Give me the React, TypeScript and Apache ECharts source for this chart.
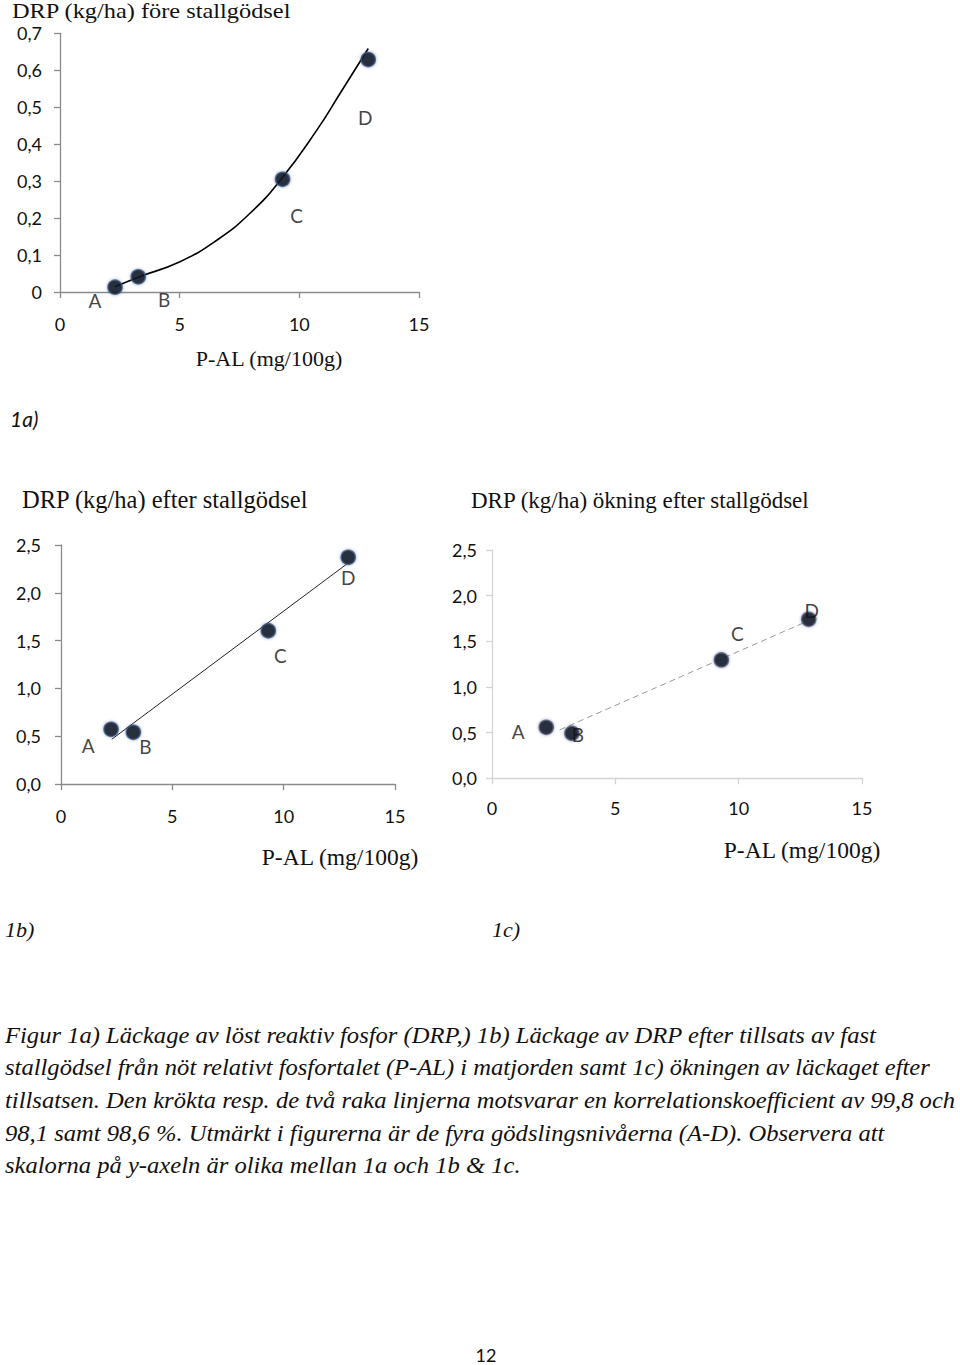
import React, { useEffect, useRef } from "react";
import * as echarts from "echarts";

// ---------- data ----------
const pointNames = ["A", "B", "C", "D"];
const palA_x = [2.3, 3.27, 9.3, 12.88];
const drpBefore = [0.013, 0.041, 0.305, 0.629];
const palB_x = [2.25, 3.25, 9.31, 12.9];
const drpAfter = [0.572, 0.541, 1.603, 2.371];
const palC_x = [2.2, 3.24, 9.3, 12.84];
const drpIncrease = [0.558, 0.493, 1.296, 1.741];

// trend line points
const curveA_x = [2.3, 3.27, 5.01, 6.55, 7.94, 9.26, 10.73, 11.7, 12.88];
const curveA_y = [0.014, 0.04, 0.082, 0.14, 0.213, 0.307, 0.438, 0.537, 0.659];
const lineB_x = [2.28, 12.83];
const lineB_y = [0.468, 2.3];
const lineC_x = [2.74, 12.74];
const lineC_y = [0.53, 1.715];

const titles = [
  "DRP (kg/ha) före stallgödsel",
  "DRP (kg/ha) efter stallgödsel",
  "DRP (kg/ha) ökning efter stallgödsel",
];
const xName = "P-AL (mg/100g)";
const panelTags = ["1a)", "1b)", "1c)"];
const captionLines = [
  "Figur 1a) Läckage av löst reaktiv fosfor (DRP,) 1b) Läckage av DRP efter tillsats av fast",
  "stallgödsel från nöt relativt fosfortalet (P-AL) i matjorden samt 1c) ökningen av läckaget efter",
  "tillsatsen. Den krökta resp. de två raka linjerna motsvarar en korrelationskoefficient av 99,8 och",
  "98,1 samt 98,6 %. Utmärkt i figurerna är de fyra gödslingsnivåerna (A-D). Observera att",
  "skalorna på y-axeln är olika mellan 1a och 1b & 1c.",
];
const pageNumber = "12";

// ---------- styles ----------
const SANS = "Lato, 'Open Sans', sans-serif";
const SERIF = "'Liberation Serif', 'Times New Roman', serif";
const labelOffsetsA = [[-20, 13], [26, 23], [14, 36], [-3, 58]];
const labelOffsetsB = [[-23, 16], [12, 14], [12, 25], [0, 20]];
const labelOffsetsC = [[-28, 4], [6, 1], [16, -26], [3, -9]];

function pts(xs: number[], ys: number[]) {
  return xs.map((x, i) => [x, ys[i]]);
}

function scatterData(xs: number[], ys: number[], offsets: number[][]) {
  return xs.map((x, i) => ({
    value: [x, ys[i]],
    name: pointNames[i],
    label: { offset: offsets[i] },
  }));
}

const markerStyle = {
  color: "#050505",
  borderColor: "#3d5680",
  borderWidth: 1.6,
  shadowBlur: 3,
  shadowColor: "rgba(40,70,120,0.6)",
};

const pointLabel = {
  show: true,
  position: "inside",
  formatter: (p: any) => p.name,
  fontFamily: SANS,
  fontSize: 19,
  color: "#111",
};

function yFmt(zeroPlain: boolean) {
  return (v: number) => (zeroPlain && v === 0 ? "0" : v.toFixed(1).replace(".", ","));
}

function xAxis(gridIndex: number, lineColor: string, margin: number) {
  return {
    type: "value",
    gridIndex,
    min: 0,
    max: 15,
    interval: 5,
    axisLine: { show: true, lineStyle: { color: lineColor, width: 1.3 } },
    axisTick: { show: true, inside: false, length: 6, lineStyle: { color: lineColor, width: 1.3 } },
    axisLabel: { fontFamily: SANS, fontSize: 18, color: "#111", margin },
    splitLine: { show: false },
  };
}

function yAxis(gridIndex: number, max: number, interval: number, lineColor: string, margin: number, zeroPlain: boolean) {
  return {
    type: "value",
    gridIndex,
    min: 0,
    max,
    interval,
    axisLine: { show: true, lineStyle: { color: lineColor, width: 1.3 } },
    axisTick: { show: true, inside: false, length: 6, lineStyle: { color: lineColor, width: 1.3 } },
    axisLabel: { fontFamily: SANS, fontSize: 18, color: "#111", margin, formatter: yFmt(zeroPlain) },
    splitLine: { show: false },
  };
}

function txt(text: string, x: number, y: number, font: string, size: number, opts: any = {}) {
  return {
    type: "text",
    x,
    y,
    style: {
      text,
      font: `${opts.italic ? "italic " : ""}${size}px ${font}`,
      fill: "#111",
      textAlign: opts.align || "left",
      textVerticalAlign: "middle",
    },
    scaleX: opts.scaleX || 1,
  };
}

export default function App() {
  const ref = useRef<HTMLDivElement>(null);

  useEffect(() => {
    document.body.style.margin = "0";
    const chart = echarts.init(ref.current!, undefined, { renderer: "svg" });
    const option: any = {
      animation: false,
      backgroundColor: "#ffffff",
      grid: [
        { left: 60, top: 33.3, width: 359, height: 258.7 },
        { left: 61, top: 545, width: 334, height: 239 },
        { left: 492, top: 550, width: 370, height: 228.3 },
      ],
      xAxis: [xAxis(0, "#8a8a8a", 23), xAxis(1, "#8a8a8a", 23), xAxis(2, "#d4d4d4", 21)],
      yAxis: [
        yAxis(0, 0.7, 0.1, "#8a8a8a", 18, true),
        yAxis(1, 2.5, 0.5, "#8a8a8a", 20, false),
        yAxis(2, 2.5, 0.5, "#d4d4d4", 15, false),
      ],
      series: [
        {
          type: "line",
          xAxisIndex: 0,
          yAxisIndex: 0,
          data: pts(curveA_x, curveA_y),
          smooth: true,
          showSymbol: false,
          lineStyle: { color: "#000", width: 1.6 },
          z: 1,
        },
        {
          type: "scatter",
          xAxisIndex: 0,
          yAxisIndex: 0,
          data: scatterData(palA_x, drpBefore, labelOffsetsA),
          symbolSize: 14,
          itemStyle: markerStyle,
          label: pointLabel,
          z: 3,
        },
        {
          type: "line",
          xAxisIndex: 1,
          yAxisIndex: 1,
          data: pts(lineB_x, lineB_y),
          showSymbol: false,
          lineStyle: { color: "#222", width: 1 },
          z: 1,
        },
        {
          type: "scatter",
          xAxisIndex: 1,
          yAxisIndex: 1,
          data: scatterData(palB_x, drpAfter, labelOffsetsB),
          symbolSize: 14,
          itemStyle: markerStyle,
          label: pointLabel,
          z: 3,
        },
        {
          type: "line",
          xAxisIndex: 2,
          yAxisIndex: 2,
          data: pts(lineC_x, lineC_y),
          showSymbol: false,
          lineStyle: { color: "#9a9a9a", width: 1, type: [6, 4] },
          z: 1,
        },
        {
          type: "scatter",
          xAxisIndex: 2,
          yAxisIndex: 2,
          data: scatterData(palC_x, drpIncrease, labelOffsetsC),
          symbolSize: 14,
          itemStyle: { ...markerStyle, borderColor: "#5a5a7a" },
          label: pointLabel,
          z: 3,
        },
      ],
      graphic: [
        txt(titles[0], 12, 11, SERIF, 21, { scaleX: 1.16 }),
        txt(xName, 269, 358, SERIF, 22, { align: "center" }),
        txt(panelTags[0], 10, 418, SANS, 21, { italic: true }),
        txt(titles[1], 22, 499, SERIF, 24.5),
        txt(titles[2], 471, 500, SERIF, 23),
        txt(xName, 340, 857, SERIF, 23.5, { align: "center" }),
        txt(xName, 802, 850, SERIF, 23.5, { align: "center" }),
        txt(panelTags[1], 5, 929, SERIF, 22, { italic: true }),
        txt(panelTags[2], 492, 929, SERIF, 22, { italic: true }),
        ...captionLines.map((l, i) => txt(l, 5, 1035 + i * 32.6, SERIF, 23, { italic: true, scaleX: 1.07 })),
        txt(pageNumber, 486, 1355, SANS, 18, { align: "center" }),
      ],
    };
    chart.setOption(option);
    return () => chart.dispose();
  }, []);

  return <div ref={ref} style={{ width: 960, height: 1365 }} />;
}
